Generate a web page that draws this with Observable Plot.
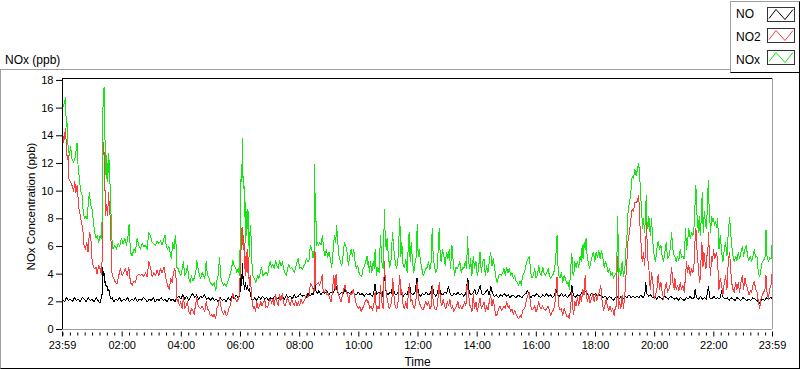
<!DOCTYPE html>
<html><head><meta charset="utf-8">
<script src="https://cdn.jsdelivr.net/npm/d3@7"></script>
<script src="https://cdn.jsdelivr.net/npm/@observablehq/plot@0.6"></script>
<style>
body{margin:0;background:#fff;font-family:"Liberation Sans",Arial,sans-serif;}
#wrap{position:relative;width:800px;height:369px;overflow:hidden;background:#fff}
#panel{position:absolute;left:0;top:69px;width:798px;height:298px;border:1px solid;border-color:#a0a0a0 #000 #000 #a0a0a0}
#title{position:absolute;left:5px;top:52px;font-size:12px;line-height:16px;color:#000;white-space:nowrap}
#legend{position:absolute;left:730px;top:1px;width:68px;height:70px;border:1px solid;border-color:#a0a0a0 #000 #000 #a0a0a0;background:#fff}
.item{position:absolute;left:5px;font-size:12px;line-height:16px;color:#000}
.sw{position:absolute;left:36px;width:26px;height:13px;border:1px solid #333;background:#fff}
.sw svg{display:block}
#chart{position:absolute;left:0;top:69px}
</style></head>
<body><div id="wrap">
<div id="panel"></div>
<div id="title">NOx (ppb)</div>
<div id="legend"></div>
<div id="chart"></div>
</div>
<script>
// minutes since 23:59 (previous day), value in ppb
const NO = [[0,2.2],[4,2.0],[8,2.3],[12,2.1],[16,2.2],[20,2.0],[24,2.3],[28,2.1],[32,2.2],[36,2.0],[40,2.3],[44,2.2],[48,2.0],[52,2.3],[56,2.1],[60,2.2],[64,2.0],[68,2.3],[72,2.1],[76,1.9],[79,2.3],
[80.5,2.6],[81.6,4.5],[83,3.9],[84.3,4.1],[85.7,3.4],[87,3.5],[88.4,3.1],[90,3.2],[92,2.8],[94,2.9],[96,2.5],[98,2.2],
[101,2.3],[104,2.0],[108,2.2],[112,2.1],[116,2.3],[120,2.0],[124,2.2],[128,2.1],[132,2.3],[136,2.0],[140,2.2],[144,2.1],[148,2.3],[152,2.0],[156,2.2],[160,2.1],[164,2.3],[168,2.2],[172,2.0],[176,2.2],[180,2.1],[184,2.3],[188,2.0],[192,2.2],[196,2.1],[200,2.3],[204,2.1],[208,2.2],[212,2.0],[216,2.3],[220,2.1],[224,2.2],[228,2.0],[232,2.3],[236,2.4],[240,2.2],[244,2.5],[248,2.2],[252,2.4],[256,2.1],[260,2.4],[264,2.6],[268,2.3],[272,2.5],[276,2.2],[280,2.4],[284,2.3],[288,2.5],[292,2.2],[296,2.3],[300,2.1],[304,2.3],[308,2.1],[312,2.2],[316,2.0],[320,2.3],[324,2.1],[328,2.2],[332,2.0],[336,2.3],[340,2.1],[344,2.4],[348,2.2],[352,2.5],[356,2.3],[359,2.4],
[361,3.0],[362.4,4.0],[363.7,3.2],[365.1,4.8],[366.4,3.6],[367.8,3.3],[369.2,2.9],[371,3.4],[373,2.9],[375,3.2],[377,2.8],[379,3.0],[381,2.6],[383,2.2],
[386,2.1],[390,2.3],[394,2.1],[398,2.4],[402,2.2],[406,2.4],[410,2.2],[414,2.3],[418,2.1],[422,2.3],[426,2.2],[430,2.4],[434,2.2],[438,2.3],[442,2.1],[446,2.4],[450,2.2],[454,2.5],[458,2.3],[462,2.4],[466,2.2],[470,2.5],[474,2.3],[478,2.4],[482,2.6],[486,2.4],[490,2.5],[494,2.3],[498,2.6],[502,2.4],[506,2.6],[509,2.5],
[510.5,3.2],[511.5,5.8],[512.8,3.6],[514,2.8],[517,2.6],[520,2.8],[524,2.5],[528,2.7],[532,2.6],[536,2.8],[540,2.5],[544,2.7],[548,2.6],[552,2.9],[555,3.1],[558,2.7],[562,2.5],[566,2.7],[570,2.6],[573,3.0],[576,2.6],[580,2.7],[584,2.5],[588,2.8],[592,2.6],[596,2.5],[600,2.7],[604,2.5],[608,2.6],[612,2.4],[616,2.6],[620,2.5],
[624,2.6],[628,2.4],[631,2.6],[634,3.3],[637,2.5],[641,2.7],[645,2.6],[649,2.4],[653,3.9],[656,2.8],[660,2.5],[664,2.7],[667,2.6],[670,3.4],[673,2.6],[677,2.5],[681,2.7],[684,3.7],[687,2.6],[691,2.4],[695,2.6],[699,2.5],[701,2.8],[704,3.2],[707,2.6],[711,2.5],[715,2.7],[719,3.7],[722,2.6],[726,2.4],[730,2.6],[734,2.5],[738,2.7],[742,2.5],[746,2.6],[750,3.2],[753,2.6],[757,2.4],[760,2.6],[764,3.2],[767,2.6],[771,2.5],[775,2.7],[779,2.6],[783,3.1],[786,2.6],[790,2.4],[794,2.6],[798,2.5],[802,2.7],[806,2.5],[810,2.6],[814,2.4],[818,2.6],[822,3.7],[825,2.7],[828,2.5],
[832,2.6],[836,2.9],[839,2.5],[843,2.7],[847,3.2],[850,2.6],[854,2.5],[858,2.7],[862,2.9],[865,2.5],[869,3.1],[872,2.6],[876,2.4],[880,2.5],[884,2.3],[888,2.5],[892,2.4],[896,2.6],[900,2.4],[904,2.5],[908,2.3],[912,2.5],[916,2.4],[920,2.3],[924,2.5],[928,2.4],[932,2.3],[936,2.5],[940,2.6],[943,2.8],[946,2.5],[950,2.3],[954,2.5],[958,2.4],[962,2.6],[966,2.4],[970,2.3],[974,2.5],[978,2.4],[982,2.6],[986,2.4],[990,2.5],[994,2.3],[998,2.5],[1001,2.9],[1004,2.5],[1008,2.4],[1012,2.6],[1016,2.4],[1020,2.5],[1024,2.3],[1028,2.5],[1031,2.6],[1033,3.2],[1036,2.5],
[1040,2.3],[1044,2.5],[1048,2.4],[1052,2.6],[1055,2.8],[1058,2.6],[1062,2.8],[1065,2.5],[1069,2.4],[1073,2.6],[1077,2.5],[1081,2.6],[1085,2.4],[1089,2.5],[1093,2.4],[1097,2.3],[1101,2.4],[1105,2.2],[1109,2.4],[1113,2.3],[1117,2.1],[1121,2.3],[1125,2.4],[1129,2.2],[1133,2.4],[1137,2.2],[1141,2.4],[1145,2.3],[1149,2.5],[1153,2.3],[1157,2.4],[1161,2.3],[1165,2.4],[1169,2.3],[1173,2.5],[1177,2.3],[1181,2.5],[1183,3.4],[1185,2.6],[1189,2.4],[1193,2.5],[1197,2.3],[1201,2.4],[1205,2.2],[1209,2.4],[1213,2.3],[1217,2.2],[1221,2.4],[1225,2.3],[1229,2.2],[1233,2.4],[1237,2.3],[1241,2.2],
[1245,2.3],[1249,2.1],[1253,2.3],[1257,2.2],[1261,2.1],[1265,2.3],[1269,2.2],[1273,2.4],[1277,2.2],[1281,2.3],[1283,2.9],[1286,2.3],[1290,2.2],[1294,2.4],[1298,2.2],[1302,2.3],[1306,2.2],[1310,3.1],[1313,2.3],[1317,2.2],[1321,2.4],[1325,2.2],[1329,2.3],[1333,2.2],[1337,2.8],[1340,2.3],[1344,2.2],[1348,2.3],[1352,2.1],[1356,2.3],[1360,2.2],[1364,2.1],[1368,2.3],[1372,2.2],[1376,2.1],[1380,2.3],[1384,2.2],[1388,2.1],[1392,2.2],[1396,2.1],[1400,2.3],[1404,2.2],[1408,2.1],[1411,2.0],[1414,1.9],[1417,2.1],[1420,2.2],[1424,2.1],[1428,2.3],[1432,2.2],[1436,2.3],[1440,2.25]];

const NO2 = [[0,14.0],[1.0,14.0],[2.4,13.5],[4.4,14.1],[5.8,14.5],[7.1,13.8],[8.5,12.8],[9.8,12.3],[11.2,12.6],[12.5,10.9],[15.9,10.7],[19.3,10.4],[22.7,10.0],[24.7,10.7],[27.4,9.9],[29.5,10.4],[31.5,9.6],[32.9,8.8],[36.2,8.2],[38.3,7.8],[41.0,7.3],[43.7,6.1],[46.4,5.8],[49.1,6.3],[51.8,5.6],[54.5,7.0],[57.2,6.8],[59.9,5.1],[62.6,4.5],[65.3,4.4],[68.1,4.5],[70.1,4.0],[73.5,4.6],[76.2,4.4],[78.9,4.0],[80.2,4.9],[81.6,12.3],[83.6,13.5],[85.0,11.9],[86.3,9.9],[87.7,8.2],[89.0,9.0],[90.4,8.5],[91.7,8.2],[93.1,9.9],[94.5,9.2],[96.5,8.2],[98.5,6.3],[100.6,3.9],[103.9,3.7],[107.3,3.4],[110.7,3.3],[114.1,3.9],[117.5,4.4],[120.9,3.9],[124.2,4.1],[127.6,4.4],[131.0,3.9],[134.4,4.5],[137.8,3.4],[141.2,3.2],[144.6,3.5],[147.9,3.4],[151.3,3.9],[154.7,4.0],[158.1,3.9],[161.5,4.0],[164.9,3.8],[168.3,4.1],[171.6,3.8],[175.0,4.9],[178.4,4.5],[181.8,3.8],[185.2,4.1],[188.6,3.9],[191.9,4.3],[195.3,3.9],[198.7,4.4],[202.1,4.1],
[206.0,4.5],[208.7,3.9],[211.4,3.4],[214.1,3.1],[216.8,2.9],[219.5,3.7],[222.2,3.4],[225.0,4.1],[227.7,4.4],[230.4,3.7],[232.4,2.0],[234.4,2.2],[237.1,1.7],[239.9,2.0],[242.6,1.5],[245.3,2.3],[248.0,1.5],[250.7,1.7],[253.4,2.0],[256.1,1.3],[258.8,1.1],[261.5,1.5],[264.2,1.4],[266.9,1.1],[269.6,1.7],[272.3,2.3],[275.1,1.7],[277.8,1.6],[280.5,1.5],[283.2,1.7],[285.9,1.5],[288.6,1.3],[291.3,2.0],[294.0,1.5],[296.7,1.4],[299.4,1.0],[302.1,1.1],[304.8,0.9],[307.6,1.1],[310.9,0.8],[313.0,1.5],[315.7,1.7],[318.4,2.3],[321.1,1.7],[323.8,1.3],[326.5,1.1],[329.2,1.4],[331.9,1.0],[334.6,1.1],[337.3,1.5],[340.0,1.7],[342.8,2.1],[345.5,2.6],[348.2,2.3],[350.9,2.2],[353.6,2.0],[356.3,2.2],[359.0,2.5],[361.0,4.9],[362.4,7.3],[363.7,5.8],[365.1,7.4],[366.4,5.8],[367.8,6.8],[369.2,4.4],[370.5,5.3],[371.9,3.9],[373.2,4.9],[374.6,5.8],[375.9,4.1],[377.3,5.2],[378.6,3.2],[380.7,3.9],[382.7,2.9],[384.8,2.0],[386.8,1.5],[388.8,1.7],[391.5,1.3],[394.2,2.0],[396.9,1.5],[399.6,1.7],[402.3,2.0],[405.0,1.7],[407.7,2.0],[410.5,2.1],[412.5,1.6],
[413.3,1.7],[416.0,1.6],[418.7,2.0],[421.4,2.2],[424.1,1.9],[426.8,2.2],[429.5,1.7],[432.3,2.5],[435.0,2.0],[437.7,1.7],[440.4,2.5],[443.1,2.1],[445.8,2.6],[448.5,1.9],[451.2,1.7],[453.9,2.0],[456.6,2.3],[459.3,2.0],[462.0,1.7],[464.8,2.2],[467.5,1.9],[470.2,1.7],[472.9,2.1],[475.6,1.7],[478.3,2.0],[481.0,1.7],[483.7,2.2],[486.4,1.9],[489.1,2.0],[491.8,2.2],[494.5,2.5],[497.2,2.3],[500.0,2.5],[502.7,3.3],[505.4,3.2],[508.1,2.9],[510.1,2.7],[511.5,6.3],[512.8,4.9],[514.2,3.2],[516.2,3.3],[518.9,3.4],[521.6,3.2],[524.3,3.5],[527.0,4.0],[528.4,2.9],[531.1,2.7],[533.8,2.9],[536.5,2.5],[539.2,2.6],[541.9,2.3],[544.6,2.0],[547.3,2.7],[550.1,3.9],[552.8,2.9],[554.8,4.0],[556.8,3.2],[559.5,2.5],[562.2,2.3],[564.9,2.0],[567.7,2.5],[570.4,2.9],[573.1,3.2],[575.8,2.7],[578.5,2.5],[581.2,1.9],[583.9,2.7],[586.6,2.5],[589.3,2.9],[592.0,2.5],[594.7,2.0],[597.4,1.7],[600.2,1.5],[602.9,1.7],[605.6,1.3],[608.3,1.5],[611.0,1.7],[613.7,2.0],[616.4,2.2],[619.8,1.9],
[620.5,2.0],[623.2,1.5],[625.9,1.7],[628.6,1.4],[631.3,1.7],[634.0,2.7],[636.7,1.3],[639.5,1.7],[642.2,1.5],[644.9,3.2],[647.6,2.0],[650.3,1.5],[653.0,4.9],[655.0,3.2],[657.1,2.5],[659.8,2.0],[662.5,1.5],[665.2,1.7],[667.9,2.0],[669.9,3.7],[672.0,2.5],[674.7,1.7],[677.4,1.5],[680.1,1.7],[682.8,3.4],[684.1,3.9],[686.2,2.5],[688.2,2.9],[690.9,1.7],[693.6,1.5],[696.3,2.0],[699.0,1.5],[701.7,2.7],[703.8,3.3],[705.8,2.0],[708.5,2.2],[711.2,1.7],[713.9,1.5],[716.6,2.0],[719.3,3.4],[721.4,2.5],[723.4,2.0],[726.1,1.7],[728.8,1.5],[731.5,1.4],[734.2,1.7],[736.9,2.0],[739.7,1.7],[742.4,2.0],[745.1,1.5],[747.8,1.7],[749.8,3.2],[751.8,2.0],[754.5,1.5],[757.3,1.4],[760.0,1.7],[762.7,2.7],[764.0,3.4],[766.7,2.0],[769.4,1.7],[772.2,2.2],[774.9,1.7],[777.6,1.5],[780.3,2.0],[783.0,1.7],[785.7,2.2],[788.4,1.5],[791.1,1.7],[793.8,1.3],[796.5,1.5],[799.2,1.7],[801.9,2.0],[804.6,1.5],[807.4,1.7],[810.1,1.5],[812.8,1.7],[815.5,2.0],[818.2,1.7],[820.9,3.4],[823.6,2.5],[826.3,1.7],
[827.7,1.7],[830.4,1.3],[833.1,2.5],[835.8,1.5],[838.5,2.0],[841.2,1.3],[843.9,1.7],[846.7,2.3],[849.4,1.5],[852.1,1.7],[854.8,2.0],[857.5,1.3],[860.2,1.7],[862.9,1.4],[865.6,2.0],[868.3,2.5],[871.0,1.7],[873.7,2.2],[876.4,1.5],[879.2,1.0],[881.9,1.1],[884.6,1.5],[887.3,1.7],[890.0,1.4],[892.7,1.5],[895.4,1.7],[898.1,1.5],[900.8,2.0],[903.5,1.6],[906.2,1.7],[908.9,1.3],[911.6,1.5],[914.4,1.1],[917.1,1.4],[919.8,1.1],[922.5,0.9],[925.2,0.8],[927.9,1.0],[930.6,0.9],[933.3,1.4],[936.0,1.5],[938.7,1.7],[941.4,2.2],[944.1,2.5],[946.9,2.7],[949.6,1.7],[952.3,1.4],[955.0,1.5],[957.7,1.7],[960.4,1.3],[963.1,1.5],[965.8,2.0],[968.5,1.6],[971.2,1.5],[973.9,1.7],[976.6,1.5],[979.3,1.4],[982.1,1.5],[984.8,1.7],[987.5,1.4],[990.2,1.0],[992.9,1.3],[995.6,1.4],[998.3,1.7],[1001.0,2.9],[1003.0,3.8],[1004.4,2.7],[1006.4,1.7],[1009.1,1.4],[1011.8,1.5],[1014.6,1.0],[1017.3,1.5],[1020.0,1.3],[1022.7,0.9],[1025.4,1.0],[1028.1,0.8],[1030.8,1.7],[1032.8,2.7],[1034.2,2.2],
[1034.9,1.5],[1036.9,1.1],[1039.0,2.0],[1041.7,1.7],[1044.4,2.3],[1047.1,1.7],[1049.8,2.5],[1052.5,2.0],[1055.2,2.9],[1057.9,2.5],[1060.0,3.9],[1062.0,2.7],[1064.7,2.0],[1067.4,2.5],[1070.1,1.9],[1072.8,2.2],[1075.5,2.6],[1078.2,2.0],[1080.9,2.5],[1083.6,2.1],[1086.4,2.5],[1089.1,2.7],[1091.8,3.2],[1094.5,2.0],[1097.2,1.4],[1099.9,1.7],[1102.6,2.2],[1105.3,1.7],[1108.0,1.4],[1110.7,1.7],[1113.4,1.3],[1116.1,1.5],[1118.8,1.0],[1120.2,1.4],[1122.9,1.7],[1124.9,4.9],[1126.3,5.3],[1127.6,1.5],[1129.7,2.0],[1132.4,1.5],[1135.1,2.5],[1137.8,1.5],[1140.5,2.5],[1143.2,4.1],[1145.3,5.3],[1147.3,6.6],[1150.0,7.0],[1152.7,8.0],[1155.4,8.7],[1158.1,8.5],[1160.8,9.2],[1163.5,9.2],[1166.2,9.3],[1168.3,9.7],[1170.3,8.7],[1171.7,7.0],[1173.7,6.1],[1175.7,4.9],[1178.4,5.6],[1180.5,4.6],[1182.5,5.8],[1184.5,7.8],[1186.5,5.3],[1189.3,4.4],[1192.0,2.9],[1194.7,4.1],[1197.4,3.4],[1200.1,2.2],[1202.8,2.5],[1205.5,2.9],[1208.2,4.0],[1210.9,2.9],[1213.6,3.4],[1216.3,2.7],[1219.0,2.2],[1221.8,2.9],[1224.5,3.4],[1227.2,2.7],[1229.9,2.9],[1232.6,3.3],[1235.3,4.5],[1238.0,3.4],[1240.7,2.9],
[1242.0,3.7],[1244.7,2.9],[1247.4,3.2],[1250.1,2.8],[1252.8,3.4],[1255.5,2.9],[1258.2,3.2],[1261.0,2.7],[1263.7,3.9],[1265.7,4.9],[1267.7,4.1],[1270.4,4.6],[1273.1,3.9],[1275.9,4.4],[1278.6,4.1],[1281.3,4.9],[1283.3,6.8],[1284.7,7.3],[1286.7,5.8],[1288.7,4.9],[1290.7,3.9],[1292.8,3.4],[1294.8,4.9],[1296.8,6.3],[1298.9,4.5],[1300.9,5.6],[1302.9,4.9],[1305.0,4.4],[1307.0,5.3],[1309.0,5.8],[1310.4,7.0],[1312.4,4.9],[1314.4,3.9],[1316.5,5.3],[1318.5,4.9],[1320.5,5.8],[1322.6,5.1],[1324.6,5.3],[1326.6,5.6],[1328.7,4.9],[1331.4,2.9],[1334.1,3.7],[1336.8,3.2],[1339.5,2.5],[1342.2,3.4],[1344.9,3.9],[1347.6,2.9],[1350.3,4.9],[1353.0,5.6],[1355.1,4.4],[1357.1,3.4],[1359.8,2.9],[1362.5,2.7],[1365.2,3.4],[1367.9,2.9],[1370.6,3.4],[1373.3,2.7],[1376.0,3.4],[1378.8,3.9],[1381.5,2.9],[1384.2,3.7],[1386.9,3.2],[1389.6,2.9],[1392.3,2.5],[1395.0,2.8],[1397.7,2.7],[1400.4,3.2],[1403.1,3.5],[1405.8,2.9],[1408.5,2.7],[1411.3,2.0],[1414.0,1.5],[1416.7,2.2],[1419.4,2.5],[1422.1,2.7],[1424.8,2.9],[1426.8,3.9],[1428.9,2.7],[1431.6,2.2],[1434.3,2.9],[1437.0,3.2],[1439.0,4.0],[1440,3.8]];

const NOx = [[0,16.0],[1.0,16.1],[4.4,16.4],[5.8,16.8],[7.8,14.7],[9.8,14.9],[11.2,13.3],[13.9,12.6],[16.6,13.2],[19.3,12.3],[22.7,12.1],[26.1,12.5],[29.5,13.5],[31.5,11.9],[34.2,10.9],[36.9,10.0],[39.6,9.7],[41.7,8.7],[44.4,8.0],[47.1,8.2],[49.8,8.0],[52.5,9.2],[54.5,9.9],[57.2,9.0],[59.9,8.7],[62.6,7.8],[65.3,7.0],[68.1,6.6],[70.8,6.8],[73.5,6.3],[76.2,6.8],[78.9,6.6],[80.2,7.8],[81.6,15.5],[82.9,16.7],[84.3,17.5],[85.7,14.0],[87.0,13.3],[88.4,10.9],[89.7,12.6],[91.7,10.7],[93.8,12.7],[95.8,11.1],[97.8,9.0],[99.9,6.6],[102.6,5.8],[106.0,6.1],[109.4,5.8],[112.7,6.2],[116.1,6.0],[119.5,6.6],[122.9,6.2],[126.3,6.6],[129.7,6.1],[133.0,6.8],[135.1,7.6],[137.8,5.6],[141.2,5.3],[144.6,5.8],[147.9,5.6],[151.3,6.6],[154.7,6.1],[158.1,5.8],[161.5,6.2],[164.9,6.0],[168.3,6.1],[171.6,5.8],[175.0,7.0],[178.4,6.8],[181.8,6.3],[185.2,6.2],[188.6,6.1],[191.9,6.4],[195.3,6.2],[198.7,6.4],[202.1,6.1],
[206.0,6.6],[208.0,6.8],[210.1,6.1],[212.8,5.8],[215.5,6.0],[218.2,5.6],[220.9,5.1],[223.6,6.3],[226.3,5.8],[228.3,6.6],[229.7,6.8],[231.7,4.5],[234.4,4.4],[237.1,4.1],[239.9,3.9],[243.2,4.4],[245.3,4.9],[248.0,3.9],[250.7,4.1],[253.4,4.6],[256.1,3.7],[258.8,3.4],[261.5,3.9],[264.2,3.5],[266.9,3.7],[270.3,4.1],[272.3,5.0],[275.1,4.4],[277.8,3.9],[280.5,3.7],[283.2,4.1],[285.9,3.9],[288.6,3.7],[291.3,4.9],[294.0,3.9],[296.7,3.8],[299.4,3.4],[302.1,3.3],[304.8,3.2],[307.6,3.4],[310.9,2.8],[313.0,3.5],[315.7,3.9],[318.4,5.2],[321.1,3.8],[323.8,3.4],[326.5,3.2],[329.2,3.3],[331.9,3.1],[334.6,3.4],[337.3,3.7],[340.0,4.0],[342.8,4.4],[345.5,5.0],[348.2,4.6],[350.9,4.5],[353.6,4.1],[356.3,4.4],[359.0,3.9],[361.0,7.5],[362.4,11.9],[363.7,10.7],[365.1,13.8],[366.4,10.2],[367.8,11.1],[369.2,8.2],[370.5,9.2],[371.9,6.3],[373.2,8.2],[374.6,8.7],[375.9,7.3],[377.3,8.5],[378.6,5.3],[380.7,7.5],[382.7,6.6],[384.1,4.9],[386.1,3.9],[388.8,3.7],[392.2,3.4],[395.6,3.9],[398.3,3.7],[401.0,4.1],[403.7,4.5],[406.4,3.9],[409.1,4.0],[412.5,4.1],
[413.3,4.1],[416.0,3.9],[418.7,4.6],[421.4,4.9],[424.1,4.5],[426.8,4.7],[429.5,4.4],[432.3,5.0],[435.0,4.6],[437.7,4.4],[440.4,5.0],[443.1,4.6],[445.8,4.9],[448.5,4.4],[451.2,4.1],[453.9,3.9],[456.6,4.4],[459.3,4.7],[462.0,4.4],[464.8,4.5],[467.5,4.3],[470.2,4.1],[472.9,4.5],[475.6,4.9],[478.3,5.1],[481.0,4.4],[483.7,4.5],[486.4,4.3],[489.1,4.6],[491.8,4.7],[494.5,5.1],[497.2,4.9],[500.0,5.0],[502.7,6.1],[505.4,5.8],[508.1,5.2],[510.1,5.6],[511.5,11.9],[512.8,7.8],[513.5,9.4],[514.9,6.1],[516.9,6.3],[518.9,6.1],[521.6,6.3],[524.3,6.1],[527.0,6.8],[529.7,5.8],[532.5,5.3],[535.2,5.8],[537.9,5.2],[540.6,5.6],[543.3,5.1],[546.0,4.5],[548.7,5.6],[551.4,6.8],[554.1,6.3],[556.1,7.5],[558.2,6.3],[560.9,5.3],[563.6,4.9],[566.3,4.6],[569.0,5.3],[571.7,6.3],[574.4,6.1],[577.1,5.6],[579.8,4.6],[582.6,5.3],[585.3,5.8],[588.0,5.3],[590.7,5.8],[593.4,4.9],[596.1,4.4],[598.8,4.6],[601.5,4.1],[604.2,3.9],[606.9,3.8],[609.6,4.4],[612.3,4.6],[615.0,4.9],[617.8,5.3],[619.8,4.6],
[620.5,4.9],[622.5,4.1],[624.6,4.9],[627.3,4.1],[630.0,4.9],[632.7,4.4],[634.0,5.8],[636.7,3.9],[639.5,4.5],[642.2,4.1],[644.9,6.8],[647.6,4.9],[650.3,4.4],[653.0,8.7],[654.4,6.8],[656.4,5.8],[658.4,6.6],[661.1,5.2],[663.8,4.5],[666.5,5.1],[669.2,7.0],[672.0,5.8],[674.7,4.9],[677.4,4.4],[680.1,4.9],[682.8,7.0],[684.1,8.0],[686.2,5.3],[688.2,6.3],[690.9,4.6],[693.6,4.5],[696.3,5.1],[699.0,4.1],[701.7,6.4],[703.1,7.0],[705.1,4.9],[707.2,6.3],[709.9,4.9],[712.6,4.1],[715.3,4.9],[718.0,5.3],[719.3,7.6],[721.4,5.3],[723.4,5.8],[726.1,4.9],[728.8,4.4],[731.5,3.9],[734.2,4.1],[736.9,4.4],[739.7,4.5],[742.4,4.9],[745.1,4.3],[747.8,4.9],[749.8,7.3],[751.8,5.3],[754.5,4.5],[757.3,4.1],[760.0,4.4],[762.7,6.3],[764.0,7.3],[766.1,5.3],[768.1,4.9],[770.8,5.8],[773.5,5.3],[776.2,4.6],[778.9,5.6],[781.6,5.1],[784.3,5.8],[787.0,4.4],[789.8,6.1],[792.5,4.9],[795.2,3.9],[797.9,4.5],[800.6,4.4],[803.3,4.6],[806.0,4.9],[808.7,4.1],[811.4,4.5],[814.1,4.4],[816.8,4.9],[819.5,4.4],[821.6,6.7],[823.6,4.9],[826.3,4.4],
[827.7,5.1],[830.4,3.9],[833.1,5.3],[835.8,4.4],[838.5,4.9],[841.2,3.9],[843.9,4.4],[846.7,5.6],[849.4,4.1],[852.1,4.9],[854.8,5.1],[857.5,3.9],[860.2,4.6],[862.9,4.1],[865.6,4.9],[868.3,5.6],[871.0,4.6],[873.7,5.1],[876.4,4.4],[879.2,3.7],[881.9,3.4],[884.6,3.9],[887.3,4.0],[890.0,3.9],[892.7,4.1],[895.4,4.4],[898.1,3.9],[900.8,4.5],[903.5,4.1],[906.2,4.4],[908.9,3.9],[911.6,4.1],[914.4,3.7],[917.1,3.9],[919.8,3.5],[922.5,3.4],[925.2,3.2],[927.9,3.5],[930.6,3.2],[933.3,3.9],[936.0,4.1],[938.7,4.4],[941.4,4.9],[944.1,5.1],[946.9,5.3],[949.6,4.1],[952.3,3.7],[955.0,3.9],[957.7,4.4],[960.4,3.7],[963.1,3.9],[965.8,4.6],[968.5,4.1],[971.2,3.9],[973.9,4.5],[976.6,4.1],[979.3,3.9],[982.1,4.1],[984.8,4.4],[987.5,3.9],[990.2,3.7],[992.9,3.9],[995.6,4.0],[998.3,4.4],[1001.0,5.6],[1003.0,6.8],[1004.4,4.9],[1006.4,3.9],[1009.1,3.7],[1011.8,4.1],[1014.6,3.4],[1017.3,3.9],[1020.0,3.7],[1022.7,3.3],[1025.4,3.4],[1028.1,2.9],[1030.8,4.4],[1032.8,5.5],[1034.2,4.9],
[1034.9,4.1],[1036.9,3.9],[1039.0,4.9],[1041.7,4.5],[1044.4,4.9],[1047.1,4.5],[1049.8,5.3],[1052.5,4.9],[1053.9,6.1],[1055.9,5.1],[1057.9,6.3],[1060.0,5.8],[1062.0,6.6],[1064.0,5.3],[1066.0,4.9],[1068.8,4.4],[1071.5,4.9],[1074.2,5.3],[1076.9,5.6],[1079.6,4.9],[1082.3,5.6],[1085.0,5.2],[1087.7,5.7],[1090.4,5.1],[1093.1,5.7],[1095.8,5.2],[1098.5,4.5],[1101.2,4.9],[1104.0,4.6],[1106.7,4.1],[1109.4,4.4],[1112.1,3.9],[1114.8,4.1],[1117.5,3.7],[1120.2,3.9],[1122.9,4.1],[1124.9,5.8],[1126.3,8.2],[1127.6,3.9],[1129.7,4.4],[1132.4,3.9],[1135.1,4.9],[1137.8,3.8],[1140.5,4.4],[1143.2,6.1],[1145.3,7.0],[1147.3,8.7],[1150.0,9.2],[1152.7,9.9],[1155.4,11.1],[1158.1,10.9],[1160.8,11.6],[1163.5,11.1],[1166.2,11.6],[1168.3,12.0],[1170.3,11.4],[1172.3,9.9],[1174.4,8.7],[1176.4,7.3],[1178.4,8.0],[1180.5,7.0],[1182.5,8.2],[1183.8,9.7],[1185.2,7.8],[1187.2,7.3],[1189.3,8.2],[1192.0,6.8],[1194.7,8.0],[1197.4,6.3],[1200.1,5.3],[1202.8,4.9],[1205.5,5.8],[1208.2,6.4],[1210.9,5.8],[1213.6,6.1],[1216.3,5.3],[1219.0,4.9],[1221.8,5.6],[1224.5,6.3],[1227.2,5.1],[1229.9,5.3],[1232.6,5.8],[1235.3,7.0],[1238.0,5.8],[1240.7,5.3],
[1242.0,5.3],[1244.7,4.9],[1247.4,5.3],[1250.1,5.0],[1252.8,5.8],[1255.5,5.2],[1258.2,5.3],[1261.0,5.1],[1263.7,7.3],[1265.7,5.8],[1267.7,6.3],[1270.4,7.3],[1273.1,6.6],[1275.9,7.0],[1278.6,6.8],[1281.3,7.5],[1283.3,9.4],[1284.7,10.4],[1286.0,8.5],[1288.0,8.0],[1289.4,7.0],[1291.4,8.2],[1293.5,6.8],[1295.5,8.0],[1297.5,9.9],[1299.5,7.0],[1301.6,8.5],[1303.6,7.8],[1305.6,7.3],[1307.7,8.6],[1309.7,10.8],[1311.1,9.2],[1312.4,8.2],[1314.4,7.0],[1316.5,8.2],[1318.5,7.8],[1320.5,8.0],[1322.6,7.5],[1324.6,7.8],[1326.6,7.4],[1328.7,8.0],[1331.4,5.8],[1334.1,6.8],[1336.8,5.6],[1339.5,4.9],[1342.2,5.8],[1344.9,6.3],[1347.6,5.3],[1350.3,7.0],[1353.0,8.1],[1355.1,7.0],[1357.1,6.1],[1359.8,5.3],[1362.5,4.9],[1365.2,5.3],[1367.9,5.0],[1370.6,5.6],[1373.3,5.1],[1376.0,5.6],[1378.8,6.0],[1381.5,5.3],[1384.2,5.8],[1386.9,6.1],[1389.6,5.2],[1392.3,5.0],[1395.0,5.3],[1397.7,4.9],[1400.4,5.3],[1403.1,5.8],[1405.8,5.2],[1408.5,5.3],[1411.3,4.1],[1414.0,3.8],[1416.7,4.4],[1419.4,4.9],[1422.1,5.0],[1424.8,5.2],[1426.8,7.2],[1428.9,5.3],[1431.6,4.9],[1434.3,5.2],[1437.0,5.1],[1439.0,6.1],[1440,6.2]];

const seriesNames = ["NO", "NO2", "NOx"];
const seriesColors = ["#000000", "#ff3c3c", "#14e614"];
const xMajorMinutes = [0,121,241,361,481,601,721,841,961,1081,1201,1321,1440];
const xMajorLabels = ["23:59","02:00","04:00","06:00","08:00","10:00","12:00","14:00","16:00","18:00","20:00","22:00","23:59"];
const yTicks = [0,2,4,6,8,10,12,14,16,18];
const yTop = 18.14;
const yLabel = "NOx Concentration (ppb)";
const xLabel = "Time";

const labelOf = new Map(xMajorMinutes.map((m, i) => [m, xMajorLabels[i]]));
const minorTicks = d3.range(1, 1440, 15).filter(m => !labelOf.has(m));

// legend
const legend = document.getElementById("legend");
const itemTops = [4, 27, 50], swTops = [5, 26, 48];
seriesNames.forEach((n, i) => {
  const t = document.createElement("div");
  t.className = "item"; t.style.top = itemTops[i] + "px"; t.textContent = n;
  legend.appendChild(t);
  const s = document.createElement("div");
  s.className = "sw"; s.style.top = swTops[i] + "px";
  s.innerHTML = `<svg width="26" height="13"><polyline points="1,10.5 8,1.5 17,11.5 25,1.5" fill="none" stroke="${seriesColors[i]}" stroke-width="1"/></svg>`;
  legend.appendChild(s);
});

const lineOpts = (c) => ({x: "0", y: "1", stroke: c, strokeWidth: 1, clip: true, shapeRendering: "crispEdges"});

const chart = Plot.plot({
  width: 800, height: 300,
  marginLeft: 62, marginRight: 28, marginTop: 9, marginBottom: 40,
  style: {fontFamily: "Liberation Sans, Arial, sans-serif", fontSize: "11px", background: "transparent", color: "#000", overflow: "visible"},
  x: {domain: [0, 1440], axis: null},
  y: {domain: [0, yTop], axis: null},
  marks: [
    Plot.line(NO, lineOpts(seriesColors[0])),
    Plot.line(NO2, lineOpts(seriesColors[1])),
    Plot.line(NOx, lineOpts(seriesColors[2])),
    Plot.ruleY([0], {stroke: "#a0a0a0"}),
    Plot.ruleX([1440], {stroke: "#a0a0a0"}),
    Plot.ruleY([yTop], {stroke: "#000"}),
    Plot.ruleX([0], {stroke: "#000"}),
    Plot.axisY(yTicks, {tickSize: 6, tickPadding: 3, fontSize: 11, label: null, tickFormat: d => String(d)}),
    Plot.axisX(minorTicks, {tickSize: 3, dy: 3.5, tickFormat: () => "", label: null}),
    Plot.axisX(xMajorMinutes, {tickSize: 5, dy: 2.5, tickPadding: 4.5, fontSize: 11, label: null, tickFormat: d => labelOf.get(d)}),
    Plot.text([yLabel], {frameAnchor: "left", textAnchor: "middle", lineAnchor: "middle", rotate: -90, dx: -31, dy: 2.5, fontSize: 11.5, fill: "#000"}),
    Plot.text([xLabel], {frameAnchor: "bottom", textAnchor: "middle", lineAnchor: "middle", dy: 33, fontSize: 12, fill: "#000"})
  ]
});
document.getElementById("chart").appendChild(chart);
</script>
</body></html>
